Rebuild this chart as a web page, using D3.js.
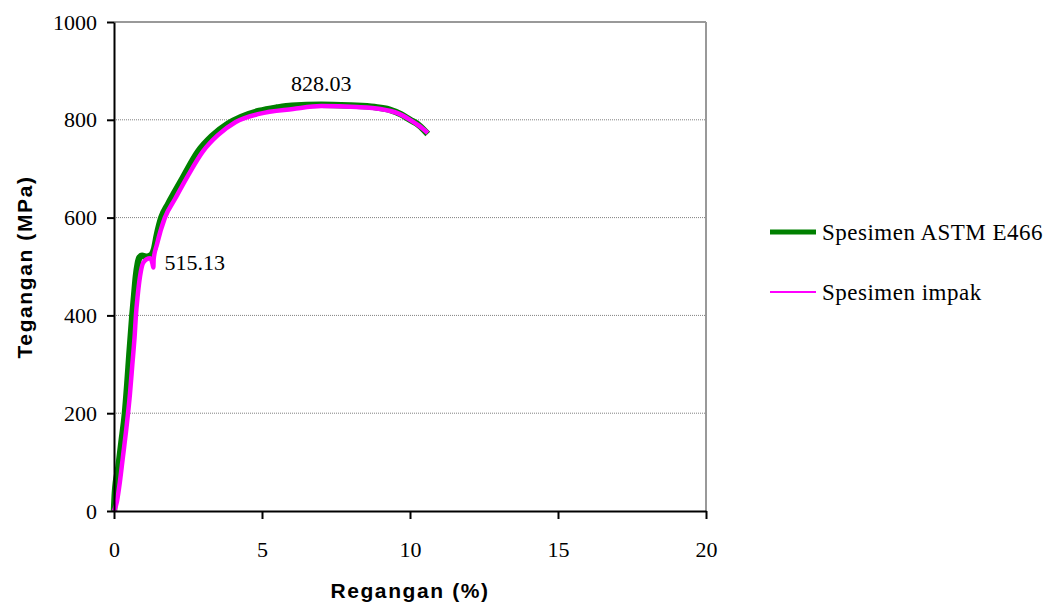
<!DOCTYPE html>
<html lang='en'>
<head>
    <meta charset='UTF-8'>
    <title>Tegangan - Regangan</title>
    <script src='https://d3js.org/d3.v7.min.js' charset='utf-8'></script>
    <style>
        body { margin: 0px; background: #fff; overflow: hidden; }
        .serif { font-family: 'Liberation Serif', 'Times New Roman', serif; font-size: 22px; fill: #000; }
        .title { font-family: 'Liberation Sans', Arial, sans-serif; font-weight: bold; font-size: 21px; letter-spacing: 1.6px; fill: #000; }
    </style>
</head>
<body>
    <div id='chart'></div>
    <script>
        'use strict';

        // strain (%) and stress (MPa)
        const astmStrain = [0, 0.03, 0.15, 0.25, 0.37, 0.45, 0.52, 0.62, 0.68, 0.74, 0.8, 0.86, 0.95, 1.1, 1.25, 1.35, 1.45, 1.6, 1.83, 2.05, 2.33, 2.84, 3.3, 3.85, 4.3, 4.9, 5.5, 6.0, 7.0, 8.0, 8.8, 9.3, 9.7, 10.0, 10.3, 10.6];
        const astmStress = [0, 37, 90, 140, 200, 260, 320, 400, 440, 480, 505, 518, 522, 520, 523, 535, 565, 600, 628, 652, 682, 735, 766, 792, 806, 818, 825, 829, 831, 829, 826, 821, 811, 800, 789, 771];

        const impakStrain = [0, 0.1, 0.2, 0.3, 0.42, 0.54, 0.62, 0.7, 0.74, 0.8, 0.88, 0.98, 1.1, 1.22, 1.3, 1.33, 1.34, 1.45, 1.72, 2.06, 2.5, 3.0, 3.5, 4.1, 4.9, 6.05, 7.0, 8.2, 9.0, 9.56, 10.0, 10.3, 10.6];
        const impakStress = [0, 20, 60, 110, 170, 240, 300, 360, 400, 440, 480, 507, 515, 517, 506, 498, 515, 545, 600, 638, 686, 735, 768, 795, 812, 822, 828, 826, 822, 814, 800, 788, 773];

        const seriesNames = ['Spesimen ASTM E466', 'Spesimen impak'];
        const seriesColors = ['#008000', '#ff00ff'];

        const yTicks = [0, 200, 400, 600, 800, 1000];
        const xTicks = [0, 5, 10, 15, 20];
        const gridValues = [200, 400, 600, 800];

        // point labels: [strain, stress, text]
        const peakLabel = [7.0, 828.03, '828.03'];
        const yieldLabel = [1.3, 515.13, '515.13'];

        const W = 1051, H = 605;
        const plot = { left: 114, right: 706, top: 22, bottom: 511 };

        const svg = d3.select('#chart')
            .append('svg')
            .attr('width', W)
            .attr('height', H);

        const x = d3.scaleLinear().domain([0, 20]).range([plot.left, plot.right]);
        const y = d3.scaleLinear().domain([0, 1000]).range([plot.bottom, plot.top]);

        // grid lines
        svg.append('g')
            .selectAll('line')
            .data(gridValues)
            .enter()
            .append('line')
            .attr('x1', x(0)).attr('x2', x(20))
            .attr('y1', d => y(d)).attr('y2', d => y(d))
            .attr('stroke', '#808080')
            .attr('stroke-width', 1)
            .attr('stroke-dasharray', '1,1');

        // plot border (top and right)
        svg.append('line')
            .attr('x1', x(0)).attr('x2', x(20))
            .attr('y1', y(1000)).attr('y2', y(1000))
            .attr('stroke', '#999').attr('stroke-width', 2);
        svg.append('line')
            .attr('x1', x(20)).attr('x2', x(20))
            .attr('y1', y(1000)).attr('y2', y(0))
            .attr('stroke', '#999').attr('stroke-width', 2);

        const line = d3.line().curve(d3.curveMonotoneX).x(d => x(d[0])).y(d => y(d[1]));
        const astm = astmStrain.map((s, i) => [s, astmStress[i]]);
        const impak = impakStrain.map((s, i) => [s, impakStress[i]]);

        svg.append('path')
            .datum(astm)
            .attr('d', line)
            .attr('fill', 'none')
            .attr('stroke', seriesColors[0])
            .attr('stroke-width', 6.5)
            .attr('stroke-linejoin', 'round');

        svg.append('path')
            .datum(impak)
            .attr('d', line)
            .attr('fill', 'none')
            .attr('stroke', seriesColors[1])
            .attr('stroke-width', 4.5)
            .attr('stroke-linejoin', 'round');

        // axes
        const yAxis = svg.append('g')
            .attr('transform', `translate(${plot.left}, 0)`)
            .call(d3.axisLeft(y).tickValues(yTicks).tickFormat(d3.format('d')).tickSize(7).tickPadding(10).tickSizeOuter(0));
        const xAxis = svg.append('g')
            .attr('transform', `translate(0, ${plot.bottom})`)
            .call(d3.axisBottom(x).tickValues(xTicks).tickSize(8).tickPadding(22).tickSizeOuter(0));

        [yAxis, xAxis].forEach(a => {
            a.select('.domain').attr('stroke', '#000').attr('stroke-width', 2);
            a.selectAll('.tick line').attr('stroke', '#000').attr('stroke-width', 2);
            a.selectAll('.tick text').attr('class', 'serif').attr('font-family', null).attr('font-size', null);
        });

        // point labels
        svg.append('text')
            .attr('class', 'serif')
            .attr('x', x(peakLabel[0]))
            .attr('y', y(peakLabel[1]) - 15)
            .attr('text-anchor', 'middle')
            .text(peakLabel[2]);
        svg.append('text')
            .attr('class', 'serif')
            .attr('x', x(yieldLabel[0]) + 12)
            .attr('y', y(yieldLabel[1]) + 11)
            .text(yieldLabel[2]);

        // axis titles
        svg.append('text')
            .attr('class', 'title')
            .attr('text-anchor', 'middle')
            .attr('transform', 'translate(32, 267) rotate(-90)')
            .text('Tegangan (MPa)');
        svg.append('text')
            .attr('class', 'title')
            .attr('text-anchor', 'middle')
            .attr('x', 410)
            .attr('y', 598)
            .text('Regangan (%)');

        // legend
        const legend = svg.append('g')
            .selectAll('g')
            .data(seriesNames)
            .enter()
            .append('g')
            .attr('transform', (d, i) => `translate(770, ${232 + i * 60})`);
        legend.append('line')
            .attr('x1', 0).attr('x2', 46)
            .attr('stroke', (d, i) => seriesColors[i])
            .attr('stroke-width', (d, i) => i === 0 ? 5 : 2);
        legend.append('text')
            .attr('class', 'serif')
            .attr('x', 52)
            .attr('dy', '0.35em')
            .style('font-size', '23px')
            .style('letter-spacing', '0.5px')
            .text(d => d);
    </script>
</body>
</html>
